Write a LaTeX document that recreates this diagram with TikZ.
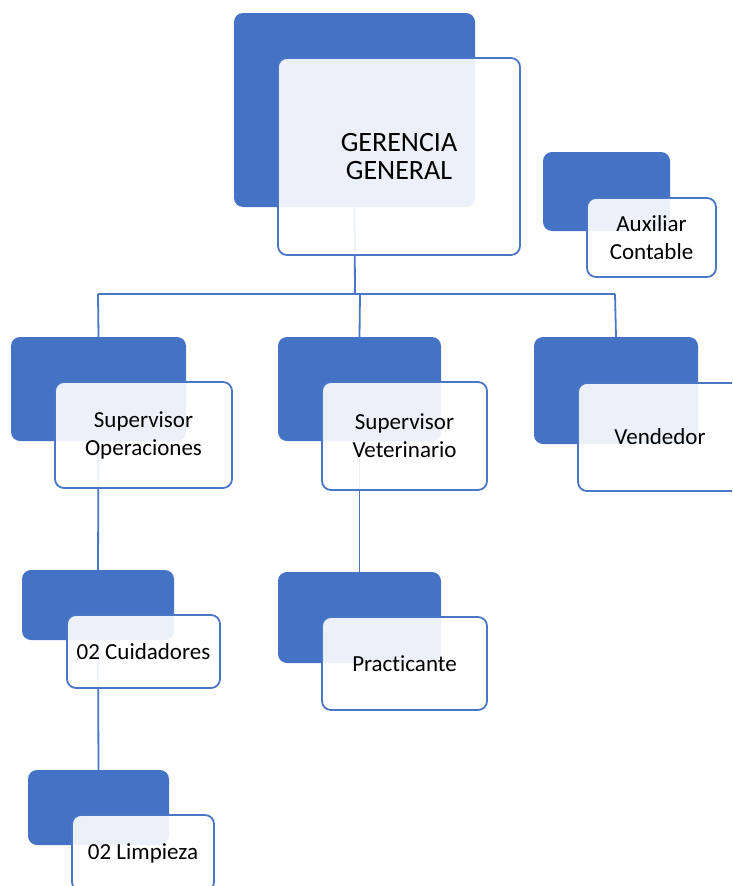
\documentclass[tikz,border=0pt]{standalone}
\usepackage{fontspec}
\setmainfont{Carlito}[Ligatures=NoCommon]
\definecolor{accblue}{HTML}{4472C4}
\definecolor{lineblue}{HTML}{4A76C6}
\begin{document}
\begin{tikzpicture}[x=1pt,y=-1pt,
  backbox/.style={fill=accblue, draw=none, rounded corners=9pt, inner sep=0pt},
  frontbox/.style={fill=white, fill opacity=0.9, text opacity=1, draw=lineblue, line width=1.8pt, rounded corners=9pt, inner sep=0pt, align=center, font=\fontsize{23}{28}\selectfont},
  conn/.style={draw=lineblue, line width=1.8pt}]
\useasboundingbox (0,0) rectangle (732,886);
\begin{scope}
\clip (0,0) rectangle (732,886);
% back boxes
\node[backbox, minimum width=241pt, minimum height=194pt] (gB) at (354.5,110) {};
\node[backbox, minimum width=127pt, minimum height=79pt] (aB) at (606.5,191.5) {};
\node[backbox, minimum width=175pt, minimum height=104pt] (soB) at (98.5,389) {};
\node[backbox, minimum width=163pt, minimum height=104pt] (svB) at (359.5,389) {};
\node[backbox, minimum width=164pt, minimum height=107pt] (veB) at (616,390.5) {};
\node[backbox, minimum width=152pt, minimum height=70pt] (cuB) at (98,605) {};
\node[backbox, minimum width=141pt, minimum height=75pt] (liB) at (98.5,807.5) {};
\node[backbox, minimum width=163pt, minimum height=91pt] (prB) at (359.5,617.5) {};
% connectors
\coordinate (busL) at (98,294);
\coordinate (busM) at (360,294);
\coordinate (busR) at (615,294);
\coordinate (busT) at (355,294);
\draw[conn] (gB.south) -- (busT);
\draw[conn] (busL) -- (busR);
\draw[conn] (busL) -- (soB.north);
\draw[conn] (busM) -- (svB.north);
\draw[conn] (busR) -- (veB.north);
\draw[conn] (soB.south) -- (cuB.north);
\draw[conn] (cuB.south) -- (liB.north);
\draw[conn] (svB.south) -- (prB.north);
% front boxes
\node[frontbox, minimum width=242pt, minimum height=197pt] (gF) at (399,156.5) {\fontsize{28}{31}\selectfont GERENCIA\\\fontsize{28}{31}\selectfont GENERAL};
\node[frontbox, minimum width=129pt, minimum height=79pt] (aF) at (651.5,237.5) {Auxiliar\\Contable};
\node[frontbox, minimum width=177pt, minimum height=106pt] (soF) at (143.5,435) {Supervisor\\Operaciones};
\node[frontbox, minimum width=165pt, minimum height=108pt] (svF) at (404.5,436) {Supervisor\\Veterinario};
\node[frontbox, minimum width=164pt, minimum height=108pt] (veF) at (660,437) {Vendedor};
\node[frontbox, minimum width=153pt, minimum height=73pt] (cuF) at (143.5,651.5) {02 Cuidadores};
\node[frontbox, minimum width=142pt, minimum height=76pt] (liF) at (143,853) {02 Limpieza};
\node[frontbox, minimum width=165pt, minimum height=93pt] (prF) at (404.5,663.5) {Practicante};
\end{scope}
\end{tikzpicture}
\end{document}
